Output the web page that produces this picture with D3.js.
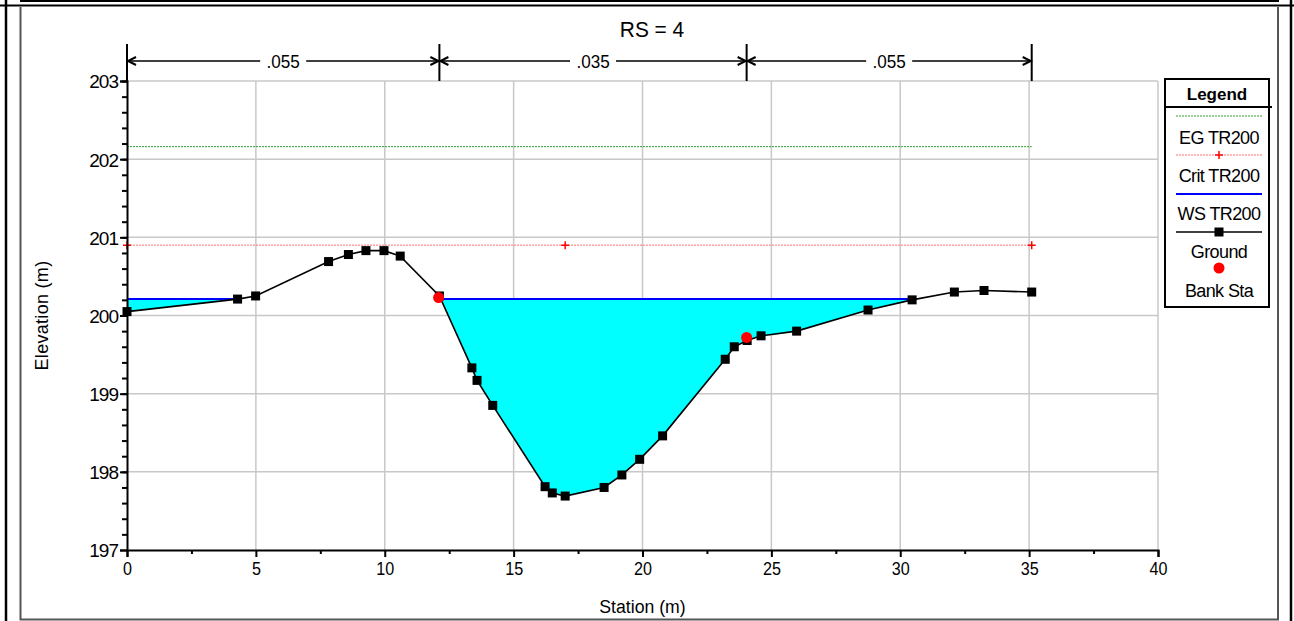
<!DOCTYPE html>
<html>
<head>
<meta charset="utf-8">
<script src="https://cdn.jsdelivr.net/npm/d3@7"></script>
<style>
  body { margin: 0; background: #fff; }
  svg text { font-family: "Liberation Sans", Arial, sans-serif; fill: #000; }
</style>
</head>
<body>
<div id="chart"></div>
<script>
// ground profile, RS = 4
var station = [0, 4.29, 4.99, 7.82, 8.59, 9.27, 9.97, 10.6, 12.12, 13.38, 13.58, 14.19,
    16.22, 16.5, 17.0, 18.51, 19.2, 19.89, 20.78, 23.21, 23.56, 24.06, 24.6, 25.98,
    28.75, 30.46, 32.1, 33.25, 35.1];
var elevation = [200.05, 200.21, 200.25, 200.69, 200.78, 200.83, 200.83, 200.76, 200.25, 199.33, 199.17, 198.85,
    197.81, 197.73, 197.69, 197.80, 197.96, 198.16, 198.46, 199.44, 199.6, 199.68, 199.74, 199.8,
    200.07, 200.2, 200.3, 200.32, 200.3];

var bankStations = [12.09, 24.04];
var bankElev = [200.23, 199.72];

var wsElev = 200.21;     // WS TR200
var critElev = 200.9;    // Crit TR200
var egElev = 202.16;     // EG TR200
var critMarks = [0, 17, 35.1];
var lineExtent = [0, 35.1];

var nBreaks = [0, 12.12, 24.04, 35.1];
var nValues = [".055", ".035", ".055"];

var xTicks = [0, 5, 10, 15, 20, 25, 30, 35, 40];
var yTicks = [197, 198, 199, 200, 201, 202, 203];

var legendItems = ["EG TR200", "Crit TR200", "WS TR200", "Ground", "Bank Sta"];

var W = 1294, H = 621;

var svg = d3.select("#chart").append("svg")
    .attr("width", W)
    .attr("height", H);

// frame
svg.append("line").attr("x1", 0).attr("x2", W).attr("y1", 5.5).attr("y2", 5.5)
    .attr("stroke", "#000").attr("stroke-width", 2);
svg.append("line").attr("x1", 20).attr("x2", 1279).attr("y1", 1).attr("y2", 1)
    .attr("stroke", "#000").attr("stroke-width", 2);
svg.append("line").attr("x1", 6).attr("x2", 6).attr("y1", 0).attr("y2", H)
    .attr("stroke", "#000").attr("stroke-width", 2.5);
svg.append("line").attr("x1", 1291).attr("x2", 1291).attr("y1", 0).attr("y2", H)
    .attr("stroke", "#000").attr("stroke-width", 2.5);
svg.append("path")
    .attr("d", "M20.5,7 L20.5,619.5 L1278,619.5 L1278,7")
    .attr("fill", "none").attr("stroke", "#555").attr("stroke-width", 2);

var x = d3.scaleLinear().domain([0, 40]).range([127, 1158]);
var y = d3.scaleLinear().domain([197, 203]).range([550, 81]);

// grid
var grid = svg.append("g");
grid.selectAll(".gx").data(xTicks.slice(1)).enter().append("line")
    .attr("x1", d => x(d)).attr("x2", d => x(d))
    .attr("y1", y(203)).attr("y2", y(197))
    .attr("stroke", "#c8c8c8").attr("stroke-width", 1.5);
grid.selectAll(".gy").data(yTicks.slice(1)).enter().append("line")
    .attr("x1", x(0)).attr("x2", x(40))
    .attr("y1", d => y(d)).attr("y2", d => y(d))
    .attr("stroke", "#c8c8c8").attr("stroke-width", 1.5);

// water fill between WS and ground
var pts = [];
for (var i = 0; i < station.length; i++) {
    pts.push({ s: station[i], e: elevation[i] });
    if (i < station.length - 1) {
        var a = elevation[i] - wsElev, b = elevation[i + 1] - wsElev;
        if (a * b < 0) {
            var t = a / (a - b);
            pts.push({ s: station[i] + t * (station[i + 1] - station[i]), e: wsElev });
        }
    }
}

svg.append("path")
    .datum(pts)
    .attr("fill", "#00ffff")
    .attr("d", d3.area()
        .x(d => x(d.s))
        .y0(y(wsElev))
        .y1(d => y(Math.min(d.e, wsElev))));

// EG and crit lines
svg.append("line")
    .attr("x1", x(lineExtent[0])).attr("x2", x(lineExtent[1]))
    .attr("y1", y(egElev)).attr("y2", y(egElev))
    .attr("stroke", "#2e9e2e").attr("stroke-width", 1).attr("stroke-dasharray", "2,1");
svg.append("line")
    .attr("x1", x(lineExtent[0])).attr("x2", x(lineExtent[1]))
    .attr("y1", y(critElev)).attr("y2", y(critElev))
    .attr("stroke", "#ff7070").attr("stroke-width", 1).attr("stroke-dasharray", "2,1");
svg.selectAll(".crit").data(critMarks).enter().append("path")
    .attr("d", d => "M" + (x(d) - 4) + "," + y(critElev) + "h8M" + x(d) + "," + (y(critElev) - 4) + "v8")
    .attr("stroke", "#ff0000").attr("stroke-width", 1.5);

// WS line
svg.append("path")
    .datum(pts)
    .attr("fill", "none")
    .attr("stroke", "#0000ff")
    .attr("stroke-width", 2)
    .attr("d", d3.line()
        .defined(d => d.e <= wsElev + 1e-6)
        .x(d => x(d.s))
        .y(y(wsElev)));

// axes
var yAxis = svg.append("g")
    .attr("transform", "translate(" + x(0) + ",0)")
    .call(d3.axisLeft(y).tickValues(yTicks).tickSize(7).tickFormat(d3.format("d")));
svg.append("g")
    .attr("transform", "translate(" + x(0) + ",0)")
    .call(d3.axisLeft(y).tickValues(d3.range(197.2, 203, 0.2)).tickSize(5).tickFormat(""))
    .call(g => g.select(".domain").remove());
var xAxis = svg.append("g")
    .attr("transform", "translate(0," + y(197) + ")")
    .call(d3.axisBottom(x).tickValues(xTicks).tickSize(7).tickFormat(d3.format("d")));
svg.append("g")
    .attr("transform", "translate(0," + y(197) + ")")
    .call(d3.axisBottom(x).tickValues(d3.range(2.5, 40, 5)).tickSize(4).tickFormat(""))
    .call(g => g.select(".domain").remove());

svg.selectAll(".domain").attr("stroke", "#000").attr("stroke-width", 2);
svg.selectAll(".tick line").attr("stroke", "#000").attr("stroke-width", 2);
yAxis.selectAll("text").style("font-size", "19px").attr("x", -9).attr("dy", "0.36em")
    .style("letter-spacing", "-1px");
xAxis.selectAll("text").style("font-size", "19px").attr("y", 12).attr("dy", "0.71em")
    .attr("transform", "scale(0.85,1)");

svg.append("text")
    .attr("transform", "translate(48," + ((y(197) + y(203)) / 2) + ") rotate(-90)")
    .attr("text-anchor", "middle")
    .style("font-size", "18px")
    .style("letter-spacing", "0.3px")
    .text("Elevation (m)");
svg.append("g")
    .attr("transform", "translate(" + ((x(0) + x(40)) / 2) + ",613) scale(0.93,1)")
    .append("text")
    .attr("text-anchor", "middle")
    .style("font-size", "19px")
    .text("Station (m)");

// ground line and markers
svg.append("path")
    .datum(station.map((s, i) => [s, elevation[i]]))
    .attr("fill", "none")
    .attr("stroke", "#000")
    .attr("stroke-width", 1.6)
    .attr("d", d3.line().x(d => x(d[0])).y(d => y(d[1])));
svg.selectAll(".gpt").data(station).enter().append("rect")
    .attr("x", d => x(d) - 4.5)
    .attr("y", (d, i) => y(elevation[i]) - 4.5)
    .attr("width", 9).attr("height", 9)
    .attr("fill", "#000");

// bank stations
svg.selectAll(".bank").data(bankStations).enter().append("circle")
    .attr("cx", d => x(d))
    .attr("cy", (d, i) => y(bankElev[i]))
    .attr("r", 5.5)
    .attr("fill", "#ff0000");

// manning's n
var nY = 61;
var nG = svg.append("g");
nG.selectAll(".nb").data(nBreaks).enter().append("line")
    .attr("x1", d => x(d)).attr("x2", d => x(d))
    .attr("y1", 44).attr("y2", 81)
    .attr("stroke", "#000").attr("stroke-width", 2);
nValues.forEach(function(v, i) {
    var x0 = x(nBreaks[i]) + 1, x1 = x(nBreaks[i + 1]) - 1;
    var xm = (x0 + x1) / 2;
    nG.append("path")
        .attr("d", "M" + x0 + "," + nY + "H" + (xm - 23) + "M" + (xm + 23) + "," + nY + "H" + x1)
        .attr("stroke", "#000").attr("stroke-width", 1.5).attr("fill", "none");
    nG.append("path")
        .attr("d", "M" + (x0 + 8) + "," + (nY - 4) + "L" + x0 + "," + nY + "L" + (x0 + 8) + "," + (nY + 4) +
            "M" + (x1 - 8) + "," + (nY - 4) + "L" + x1 + "," + nY + "L" + (x1 - 8) + "," + (nY + 4))
        .attr("stroke", "#000").attr("stroke-width", 2).attr("fill", "none");
    nG.append("g")
        .attr("transform", "translate(" + xm + "," + (nY + 7) + ") scale(0.9,1)")
        .append("text")
        .attr("text-anchor", "middle")
        .style("font-size", "19px")
        .text(v);
});

// title
svg.append("g")
    .attr("transform", "translate(652,37) scale(0.95,1)")
    .append("text")
    .attr("text-anchor", "middle")
    .style("font-size", "22px")
    .text("RS = 4");

// legend
var lg = svg.append("g").attr("transform", "translate(1165,79)");
lg.append("rect").attr("x", 0).attr("y", 0).attr("width", 104).attr("height", 228)
    .attr("fill", "#fff").attr("stroke", "#000").attr("stroke-width", 2);
lg.append("line").attr("x1", 0).attr("x2", 107).attr("y1", 28).attr("y2", 28)
    .attr("stroke", "#000").attr("stroke-width", 2);
lg.append("text").attr("x", 52).attr("y", 21).attr("text-anchor", "middle")
    .style("font-size", "17px").style("font-weight", "bold").text("Legend");

var sx0 = 11, sx1 = 97, cx = 54;
lg.append("line").attr("x1", sx0).attr("x2", sx1).attr("y1", 37).attr("y2", 37)
    .attr("stroke", "#2e9e2e").attr("stroke-dasharray", "2,1");
lg.append("line").attr("x1", sx0).attr("x2", sx1).attr("y1", 76).attr("y2", 76)
    .attr("stroke", "#ff7070").attr("stroke-dasharray", "2,1");
lg.append("path").attr("d", "M" + (cx - 4) + ",76h8M" + cx + ",72v8")
    .attr("stroke", "#ff0000").attr("stroke-width", 1.5);
lg.append("line").attr("x1", sx0).attr("x2", sx1).attr("y1", 115).attr("y2", 115)
    .attr("stroke", "#0000ff").attr("stroke-width", 2);
lg.append("line").attr("x1", sx0).attr("x2", sx1).attr("y1", 153).attr("y2", 153)
    .attr("stroke", "#000").attr("stroke-width", 1.6);
lg.append("rect").attr("x", cx - 4.5).attr("y", 148.5).attr("width", 9).attr("height", 9).attr("fill", "#000");
lg.append("circle").attr("cx", cx).attr("cy", 189).attr("r", 5.5).attr("fill", "#ff0000");

var labelY = [65, 103, 141, 179, 218];
legendItems.forEach(function(t, i) {
    lg.append("text").attr("x", cx).attr("y", labelY[i])
        .attr("text-anchor", "middle")
        .style("font-size", "18px")
        .style("letter-spacing", "-0.6px")
        .text(t);
});
</script>
</body>
</html>
